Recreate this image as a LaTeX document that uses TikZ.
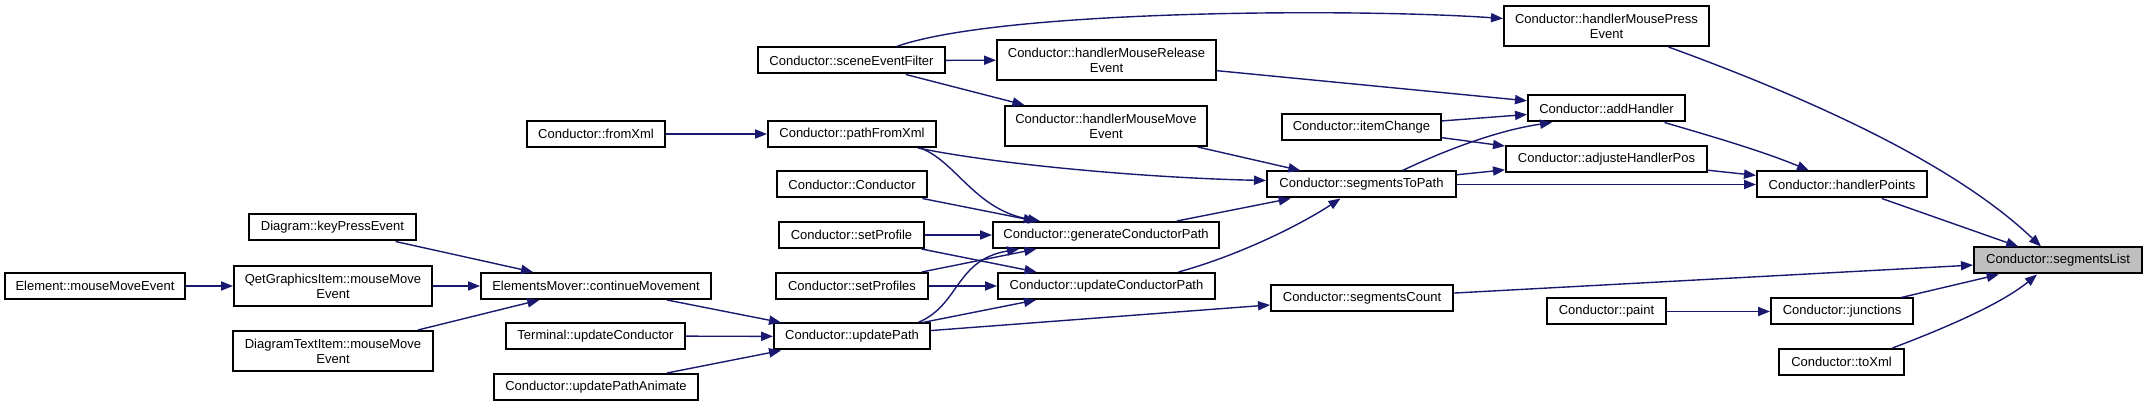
\documentclass[tikz,border=0pt]{standalone}
\usepackage{fontspec}
\setmainfont{Liberation Sans}
\usetikzlibrary{arrows.meta,calc}
\definecolor{edgec}{HTML}{191970}
\definecolor{selfill}{HTML}{BFBFBF}
\tikzset{
  box/.style={draw=black, line width=1pt, inner sep=0pt, align=center,
    minimum height=13pt, font=\fontsize{6.5}{7.5}\selectfont},
  twoline/.style={minimum height=20pt},
  edge/.style={draw=edgec, line width=0.7pt, -{Triangle[length=6pt,width=4.6pt]}},
}
\begin{document}
\begin{tikzpicture}[x=0.5pt,y=-0.5pt]
\useasboundingbox (0,0) rectangle (2148,406);
% nodes
\node[box, minimum width=90pt] (elemMME) at (95,286) {Element::mouseMoveEvent};
\node[box, minimum width=83.5pt] (keyPress) at (332.5,227.5) {Diagram::keyPressEvent};
\node[box, twoline, minimum width=99pt] (qgiMME) at (333,286) {QetGraphicsItem::mouseMove\\Event};
\node[box, twoline, minimum width=100pt] (dtiMME) at (333,351) {DiagramTextItem::mouseMove\\Event};
\node[box, minimum width=115pt] (contMov) at (596,286) {ElementsMover::continueMovement};
\node[box, minimum width=89.5pt] (termUpd) at (595.5,336) {Terminal::updateConductor};
\node[box, minimum width=102pt] (updPA) at (596,387) {Conductor::updatePathAnimate};
\node[box, minimum width=69pt] (fromXml) at (596,134) {Conductor::fromXml};
\node[box, minimum width=93.5pt] (sceneEF) at (851.5,60.5) {Conductor::sceneEventFilter};
\node[box, minimum width=84pt] (pathFX) at (852,134) {Conductor::pathFromXml};
\node[box, minimum width=75pt] (condC) at (852,184.5) {Conductor::Conductor};
\node[box, minimum width=72.5pt] (setProf) at (851.5,235) {Conductor::setProfile};
\node[box, minimum width=76pt] (setProfs) at (852,286) {Conductor::setProfiles};
\node[box, minimum width=78pt] (updPath) at (852,336.5) {Conductor::updatePath};
\node[box, twoline, minimum width=109.5pt] (hMRel) at (1106.5,60) {Conductor::handlerMouseRelease\\Event};
\node[box, twoline, minimum width=101pt] (hMMove) at (1106,126) {Conductor::handlerMouseMove\\Event};
\node[box, minimum width=113pt] (genCP) at (1106,235) {Conductor::generateConductorPath};
\node[box, minimum width=108.5pt] (updCP) at (1106.5,286) {Conductor::updateConductorPath};
\node[box, minimum width=79.5pt] (itemCh) at (1361.5,127) {Conductor::itemChange};
\node[box, minimum width=94.5pt] (segTP) at (1361.5,184.5) {Conductor::segmentsToPath};
\node[box, minimum width=91pt] (segCnt) at (1362,298) {Conductor::segmentsCount};
\node[box, twoline, minimum width=102.5pt] (hMPress) at (1606.5,26) {Conductor::handlerMousePress\\Event};
\node[box, minimum width=78.5pt] (addH) at (1606.5,108.5) {Conductor::addHandler};
\node[box, minimum width=100.5pt] (adjHP) at (1606.5,159.5) {Conductor::adjusteHandlerPos};
\node[box, minimum width=59.5pt] (paint) at (1606.5,311.5) {Conductor::paint};
\node[box, minimum width=85pt] (hPts) at (1842,184.5) {Conductor::handlerPoints};
\node[box, minimum width=71pt] (junc) at (1842,311.5) {Conductor::junctions};
\node[box, minimum width=62.5pt] (toXml) at (1841.5,362) {Conductor::toXml};
\node[box, fill=selfill, minimum width=84pt] (segList) at (2058,260.5) {Conductor::segmentsList};
% edges
\draw[edge] (elemMME) -- (qgiMME);
\draw[edge] (keyPress) -- (contMov);
\draw[edge] (qgiMME) -- (contMov);
\draw[edge] (dtiMME) -- (contMov);
\draw[edge] (contMov) -- (updPath);
\draw[edge] (termUpd) -- (updPath);
\draw[edge] (updPA) -- (updPath);
\draw[edge] (fromXml) -- (pathFX);
\draw[edge] (sceneEF) -- (hMRel);
\draw[edge] (sceneEF) -- (hMMove);
\draw[edge] ($(sceneEF.north)+(45,0)$) .. controls (1000,10) and (1350,8) .. ($(hMPress.west)+(0,-7.5)$);
\draw[edge] ($(pathFX.south)+(66,0)$) .. controls (1000,165) and (1150,178) .. ($(segTP.west)+(0,-4)$);
\draw[edge] ($(pathFX.south)+(68,0)$) .. controls (955,160) and (975,210) .. ($(genCP.north)+(-66,0)$);
\draw[edge] (condC) -- (genCP);
\draw[edge] (setProf) -- (genCP);
\draw[edge] (setProf) -- (updCP);
\draw[edge] (setProfs) -- (genCP);
\draw[edge] (setProfs) -- (updCP);
\draw[edge] ($(updPath.north)+(66,0)$) .. controls (960,305) and (955,260) .. ($(genCP.south west)+(27,0)$);
\draw[edge] (updPath) -- (updCP);
\draw[edge] (updPath) -- (segCnt);
\draw[edge] (hMRel) -- (addH);
\draw[edge] (hMMove) -- (segTP);
\draw[edge] (genCP) -- (segTP);
\draw[edge] ($(updCP.north)+(72,0)$) .. controls (1240,255) and (1300,225) .. ($(segTP.south)+(-21,0)$);
\draw[edge] (itemCh) -- (addH);
\draw[edge] (itemCh) -- (adjHP);
\draw[edge] ($(segTP.north)+(41,0)$) .. controls (1450,148) and (1500,130) .. ($(addH.south west)+(25,0)$);
\draw[edge] (segTP) -- (adjHP);
\draw[edge] (segTP) -- (hPts);
\draw[edge] ($(addH.south)+(58,0)$) .. controls (1700,133) and (1760,150) .. ($(hPts.north west)+(53,0)$);
\draw[edge] (adjHP) -- (hPts);
\draw[edge] (hPts) -- (segList);
\draw[edge] ($(hMPress.south)+(62,0)$) .. controls (1800,95) and (1950,160) .. ($(segList.north)+(-17,0)$);
\draw[edge] (segCnt) -- (segList);
\draw[edge] (paint) -- (junc);
\draw[edge] (junc) -- (segList);
\draw[edge] ($(toXml.north)+(51,0)$) .. controls (1940,330) and (2000,305) .. ($(segList.south)+(-21,0)$);
\end{tikzpicture}
\end{document}
